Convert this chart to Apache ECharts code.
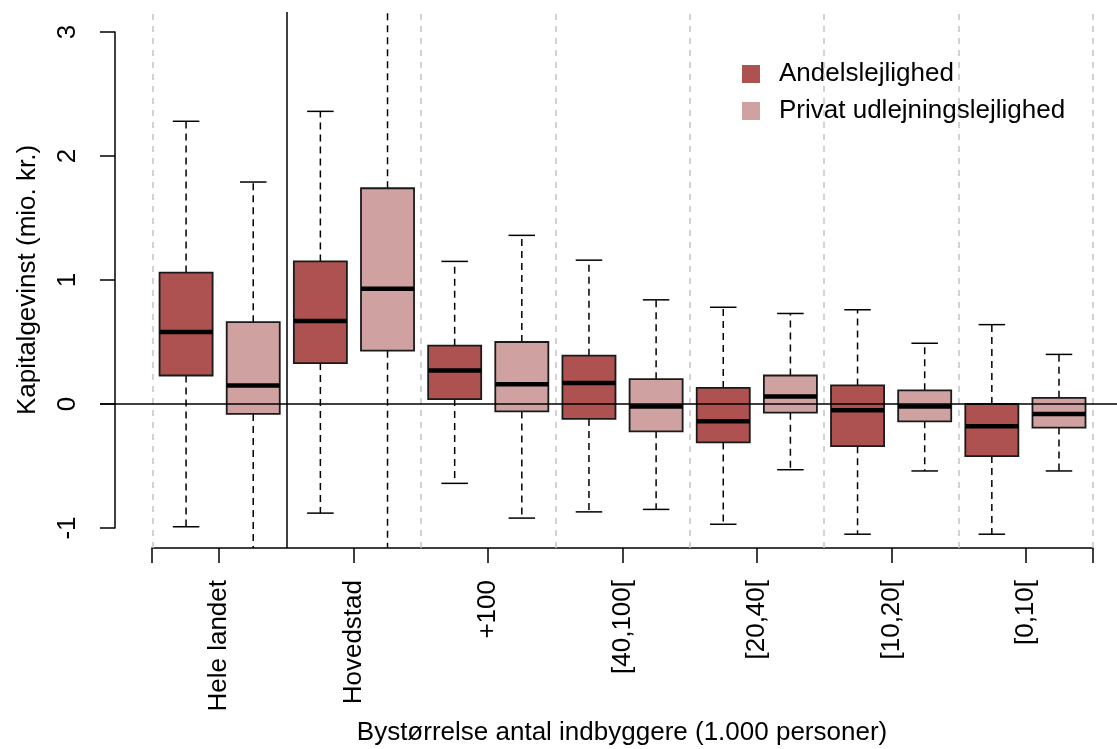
<!DOCTYPE html>
<html>
<head>
<meta charset="utf-8">
<script src="https://cdn.jsdelivr.net/npm/echarts@6/dist/echarts.min.js"></script>
<style>
html,body{margin:0;padding:0;background:#fff}
#main{width:1117px;height:749px}
</style>
</head>
<body>
<div id="main"></div>
<script>
var groups = ['Hele landet', 'Hovedstad', '+100', '[40,100[', '[20,40[', '[10,20[', '[0,10['];
// [nedre whisker, Q1, median, Q3, øvre whisker]
var andel = [
    [-0.99, 0.23, 0.58, 1.06, 2.28],
    [-0.88, 0.33, 0.67, 1.15, 2.36],
    [-0.64, 0.04, 0.27, 0.47, 1.15],
    [-0.87, -0.12, 0.17, 0.39, 1.16],
    [-0.97, -0.31, -0.14, 0.13, 0.78],
    [-1.05, -0.34, -0.05, 0.15, 0.76],
    [-1.05, -0.42, -0.18, 0.00, 0.64]
];
var privat = [
    [-1.24, -0.08, 0.15, 0.66, 1.79],
    [-1.35, 0.43, 0.93, 1.74, 3.40],
    [-0.92, -0.06, 0.16, 0.50, 1.36],
    [-0.85, -0.22, -0.02, 0.20, 0.84],
    [-0.53, -0.07, 0.06, 0.23, 0.73],
    [-0.54, -0.14, -0.02, 0.11, 0.49],
    [-0.54, -0.19, -0.08, 0.05, 0.40]
];
var yTicks = [-1, 0, 1, 2, 3];
var seriesNames = ['Andelslejlighed', 'Privat udlejningslejlighed'];
var colors = ['#ad5251', '#cfa1a1'];

var boxWidth = 0.395;
var FONT = 'Liberation Sans, Arial, sans-serif';
var FS = 26;

var chart = echarts.init(document.getElementById('main'));

function toData(arr, offset) {
    return arr.map(function (d, i) {
        return [i + 1 + offset, d[0], d[1], d[2], d[3], d[4]];
    });
}

function makeRender(fill) {
    return function (params, api) {
        var cs = params.coordSys;
        var top = cs.y, bottom = cs.y + cs.height;
        var x = api.value(0);
        var lo = api.coord([x, api.value(1)]);
        var q1 = api.coord([x, api.value(2)]);
        var md = api.coord([x, api.value(3)]);
        var q3 = api.coord([x, api.value(4)]);
        var hi = api.coord([x, api.value(5)]);
        var w = api.size([boxWidth, 0])[0];
        var cx = q1[0];
        var cap = w / 4;
        var dash = {stroke: '#000', lineWidth: 1.5, lineDash: [7, 5]};
        var solid = {stroke: '#000', lineWidth: 1.5};
        var kids = [];
        kids.push({type: 'line', shape: {x1: cx, y1: q3[1], x2: cx, y2: Math.max(hi[1], top)}, style: dash});
        kids.push({type: 'line', shape: {x1: cx, y1: q1[1], x2: cx, y2: Math.min(lo[1], bottom)}, style: dash});
        if (hi[1] >= top) {
            kids.push({type: 'line', shape: {x1: cx - cap, y1: hi[1], x2: cx + cap, y2: hi[1]}, style: solid});
        }
        if (lo[1] <= bottom) {
            kids.push({type: 'line', shape: {x1: cx - cap, y1: lo[1], x2: cx + cap, y2: lo[1]}, style: solid});
        }
        kids.push({type: 'rect', shape: {x: cx - w / 2, y: q3[1], width: w, height: q1[1] - q3[1]},
            style: {fill: fill, stroke: '#1a1a1a', lineWidth: 1.8}});
        kids.push({type: 'line', shape: {x1: cx - w / 2, y1: md[1], x2: cx + w / 2, y2: md[1]},
            style: {stroke: '#000', lineWidth: 4.5}});
        return {type: 'group', children: kids};
    };
}

var dividers = [];
for (var i = 0; i <= groups.length; i++) {
    if (i === 1) continue;
    dividers.push({xAxis: i + 0.5});
}

var option = {
    animation: false,
    backgroundColor: '#fff',
    textStyle: {fontFamily: FONT},
    grid: [
        {left: 100, right: 0, top: 12, bottom: 201},
        {left: 152, right: 24, top: 12, bottom: 201},
        {left: 115, width: 10, top: 32, bottom: 221}
    ],
    xAxis: [
        {gridIndex: 0, type: 'value', min: 0.109, max: 7.682, show: false},
        {gridIndex: 1, type: 'value', min: 0.5, max: 7.5,
            axisLine: {lineStyle: {color: '#000', width: 1.5}},
            axisTick: {length: 15, lineStyle: {color: '#000', width: 1.5},
                customValues: [0.5, 1, 2, 3, 4, 5, 6, 7, 7.5]},
            axisLabel: {rotate: 90, margin: 32, fontSize: FS, color: '#000', fontFamily: FONT,
                customValues: [1, 2, 3, 4, 5, 6, 7],
                formatter: function (v) { return groups[Math.round(v) - 1]; }},
            splitLine: {show: false}},
        {gridIndex: 2, type: 'value', min: 0, max: 1, show: false}
    ],
    yAxis: [
        {gridIndex: 0, type: 'value', min: -1.1613, max: 3.1613, show: false},
        {gridIndex: 1, type: 'value', min: 0, max: 1, show: false},
        {gridIndex: 2, type: 'value', min: yTicks[0], max: yTicks[yTicks.length - 1], interval: 1,
            axisLine: {show: true, lineStyle: {color: '#000', width: 1.5}},
            axisTick: {show: true, length: 15, lineStyle: {color: '#000', width: 1.5}},
            axisLabel: {rotate: 90, margin: 34, fontSize: FS, color: '#000', fontFamily: FONT},
            splitLine: {show: false}}
    ],
    legend: {
        orient: 'vertical',
        left: 737,
        top: 56,
        icon: 'rect',
        itemWidth: 18,
        itemHeight: 18,
        itemGap: 11,
        data: seriesNames,
        textStyle: {fontSize: FS, color: '#000', fontFamily: FONT, padding: [0, 0, 0, 14]}
    },
    graphic: [
        {type: 'text', x: 622, y: 733,
            style: {text: 'Bystørrelse antal indbyggere (1.000 personer)', font: FS + 'px ' + FONT, fill: '#000',
                textAlign: 'center', textVerticalAlign: 'middle'}},
        {type: 'text', x: 28, y: 280, rotation: Math.PI / 2,
            style: {text: 'Kapitalgevinst (mio. kr.)', font: FS + 'px ' + FONT, fill: '#000',
                textAlign: 'center', textVerticalAlign: 'middle'}}
    ],
    series: [
        {
            name: seriesNames[0], type: 'custom', xAxisIndex: 0, yAxisIndex: 0,
            itemStyle: {color: colors[0]},
            renderItem: makeRender(colors[0]),
            encode: {x: 0, y: [1, 2, 3, 4, 5]},
            data: toData(andel, -0.25), z: 3
        },
        {
            name: seriesNames[1], type: 'custom', xAxisIndex: 0, yAxisIndex: 0,
            itemStyle: {color: colors[1]},
            renderItem: makeRender(colors[1]),
            encode: {x: 0, y: [1, 2, 3, 4, 5]},
            data: toData(privat, 0.25), z: 3
        },
        {
            type: 'line', xAxisIndex: 0, yAxisIndex: 0, data: [], silent: true, z: 1,
            markLine: {
                silent: true, symbol: 'none', label: {show: false},
                lineStyle: {color: '#c4c4c4', width: 1.5, type: [6, 6]},
                data: dividers
            }
        },
        {
            type: 'line', xAxisIndex: 0, yAxisIndex: 0, data: [], silent: true, z: 5,
            markLine: {
                silent: true, symbol: 'none', label: {show: false},
                lineStyle: {color: '#000', width: 1.5, type: 'solid'},
                data: [{xAxis: 1.5}, {yAxis: 0}]
            }
        }
    ]
};
chart.setOption(option);
</script>
</body>
</html>
